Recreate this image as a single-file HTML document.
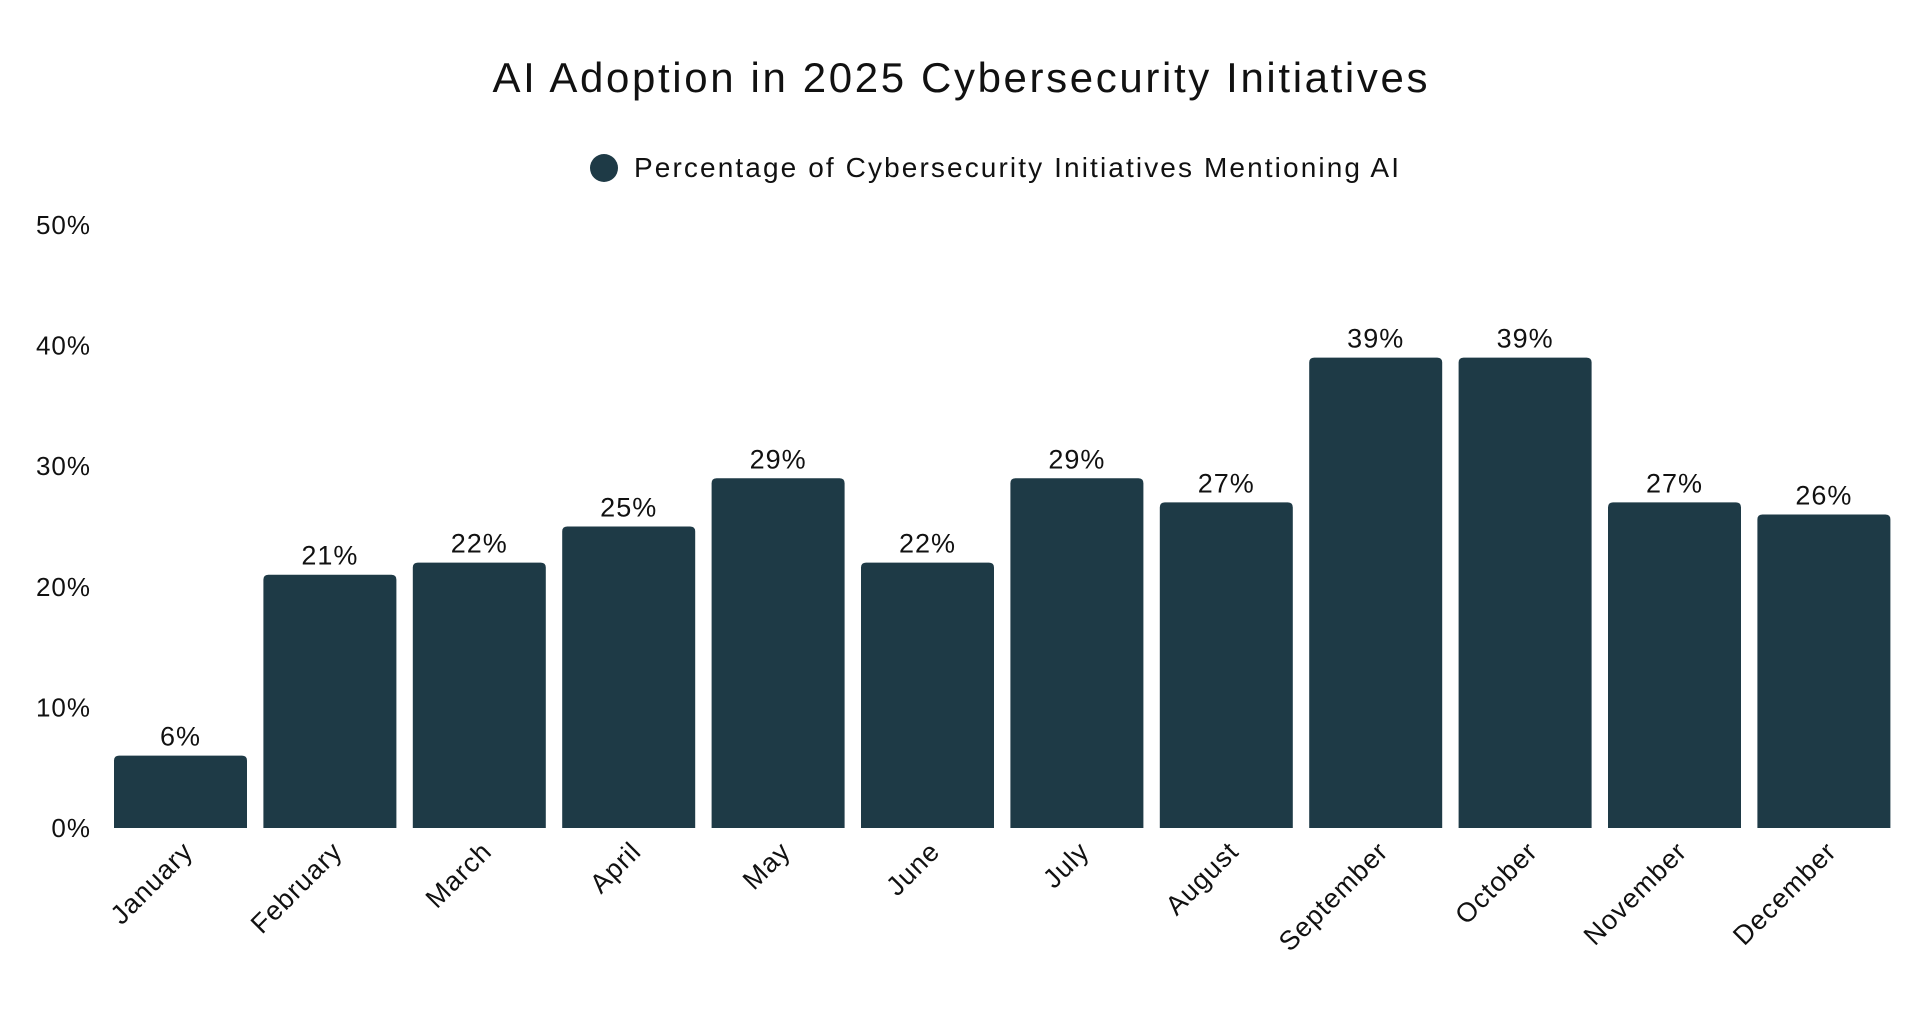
<!DOCTYPE html>
<html><head><meta charset="utf-8"><style>
html,body{margin:0;padding:0;background:#fff;}
svg{display:block;font-family:"Liberation Sans",sans-serif;}
</style></head><body>
<svg id="chart" width="1920" height="1028" viewBox="0 0 1920 1028">
<text x="960" y="92" text-anchor="middle" font-size="42" fill="#111" textLength="935" lengthAdjust="spacing">AI Adoption in 2025 Cybersecurity Initiatives</text>
<g>
<circle cx="604" cy="168" r="14" fill="#1e3a46"></circle>
<text x="634" y="177" font-size="28" fill="#111" textLength="765" lengthAdjust="spacing">Percentage of Cybersecurity Initiatives Mentioning AI</text>
</g>
<g id="yaxis"></g>
<g id="bars"></g>
<g id="xaxis"></g>
</svg>
<script>
const categories = ["January","February","March","April","May","June","July","August","September","October","November","December"];
const values = [6,21,22,25,29,22,29,27,39,39,27,26];
const yTicks = [0,10,20,30,40,50];
const yTickLabels = ["0%","10%","20%","30%","40%","50%"];

const NS = "http://www.w3.org/2000/svg";
const y0 = 828, yMax = 50, yTop = 225;
const left = 114, pitch = 149.4, barW = 133;
function yScale(v){ return y0 - (v / yMax) * (y0 - yTop); }
function xScale(i){ return left + i * pitch; }
function mk(tag, attrs){ const e = document.createElementNS(NS, tag); for (const k in attrs) e.setAttribute(k, attrs[k]); return e; }

const ya = document.getElementById('yaxis');
yTicks.forEach((t, i) => {
  const tx = mk('text', {x: 91, y: yScale(t) + 9, 'text-anchor': 'end', 'font-size': 26, fill: '#111', 'letter-spacing': 1});
  tx.textContent = yTickLabels[i];
  
  
  ya.appendChild(tx);
});

const bg = document.getElementById('bars');
const xa = document.getElementById('xaxis');
categories.forEach((c, i) => {
  const x = xScale(i), top = yScale(values[i]);
  const p = mk('path', {d: `M${x},${y0} L${x},${top+5} Q${x},${top} ${x+5},${top} L${x+barW-5},${top} Q${x+barW},${top} ${x+barW},${top+5} L${x+barW},${y0} Z`, fill: '#1e3a46'});
  
  
  bg.appendChild(p);
  const vl = mk('text', {x: x + barW/2, y: top - 10, 'text-anchor': 'middle', 'font-size': 27, fill: '#111', 'letter-spacing': 1});
  vl.textContent = values[i] + '%';
  
  
  bg.appendChild(vl);
  const ax = x + barW/2 + 14, ay = 853;
  const xl = mk('text', {x: ax, y: ay, 'text-anchor': 'end', 'font-size': 27, fill: '#111', 'letter-spacing': 1, transform: `rotate(-45 ${ax} ${ay})`});
  xl.textContent = c;
  
  
  xa.appendChild(xl);
});
</script>
</body></html>
